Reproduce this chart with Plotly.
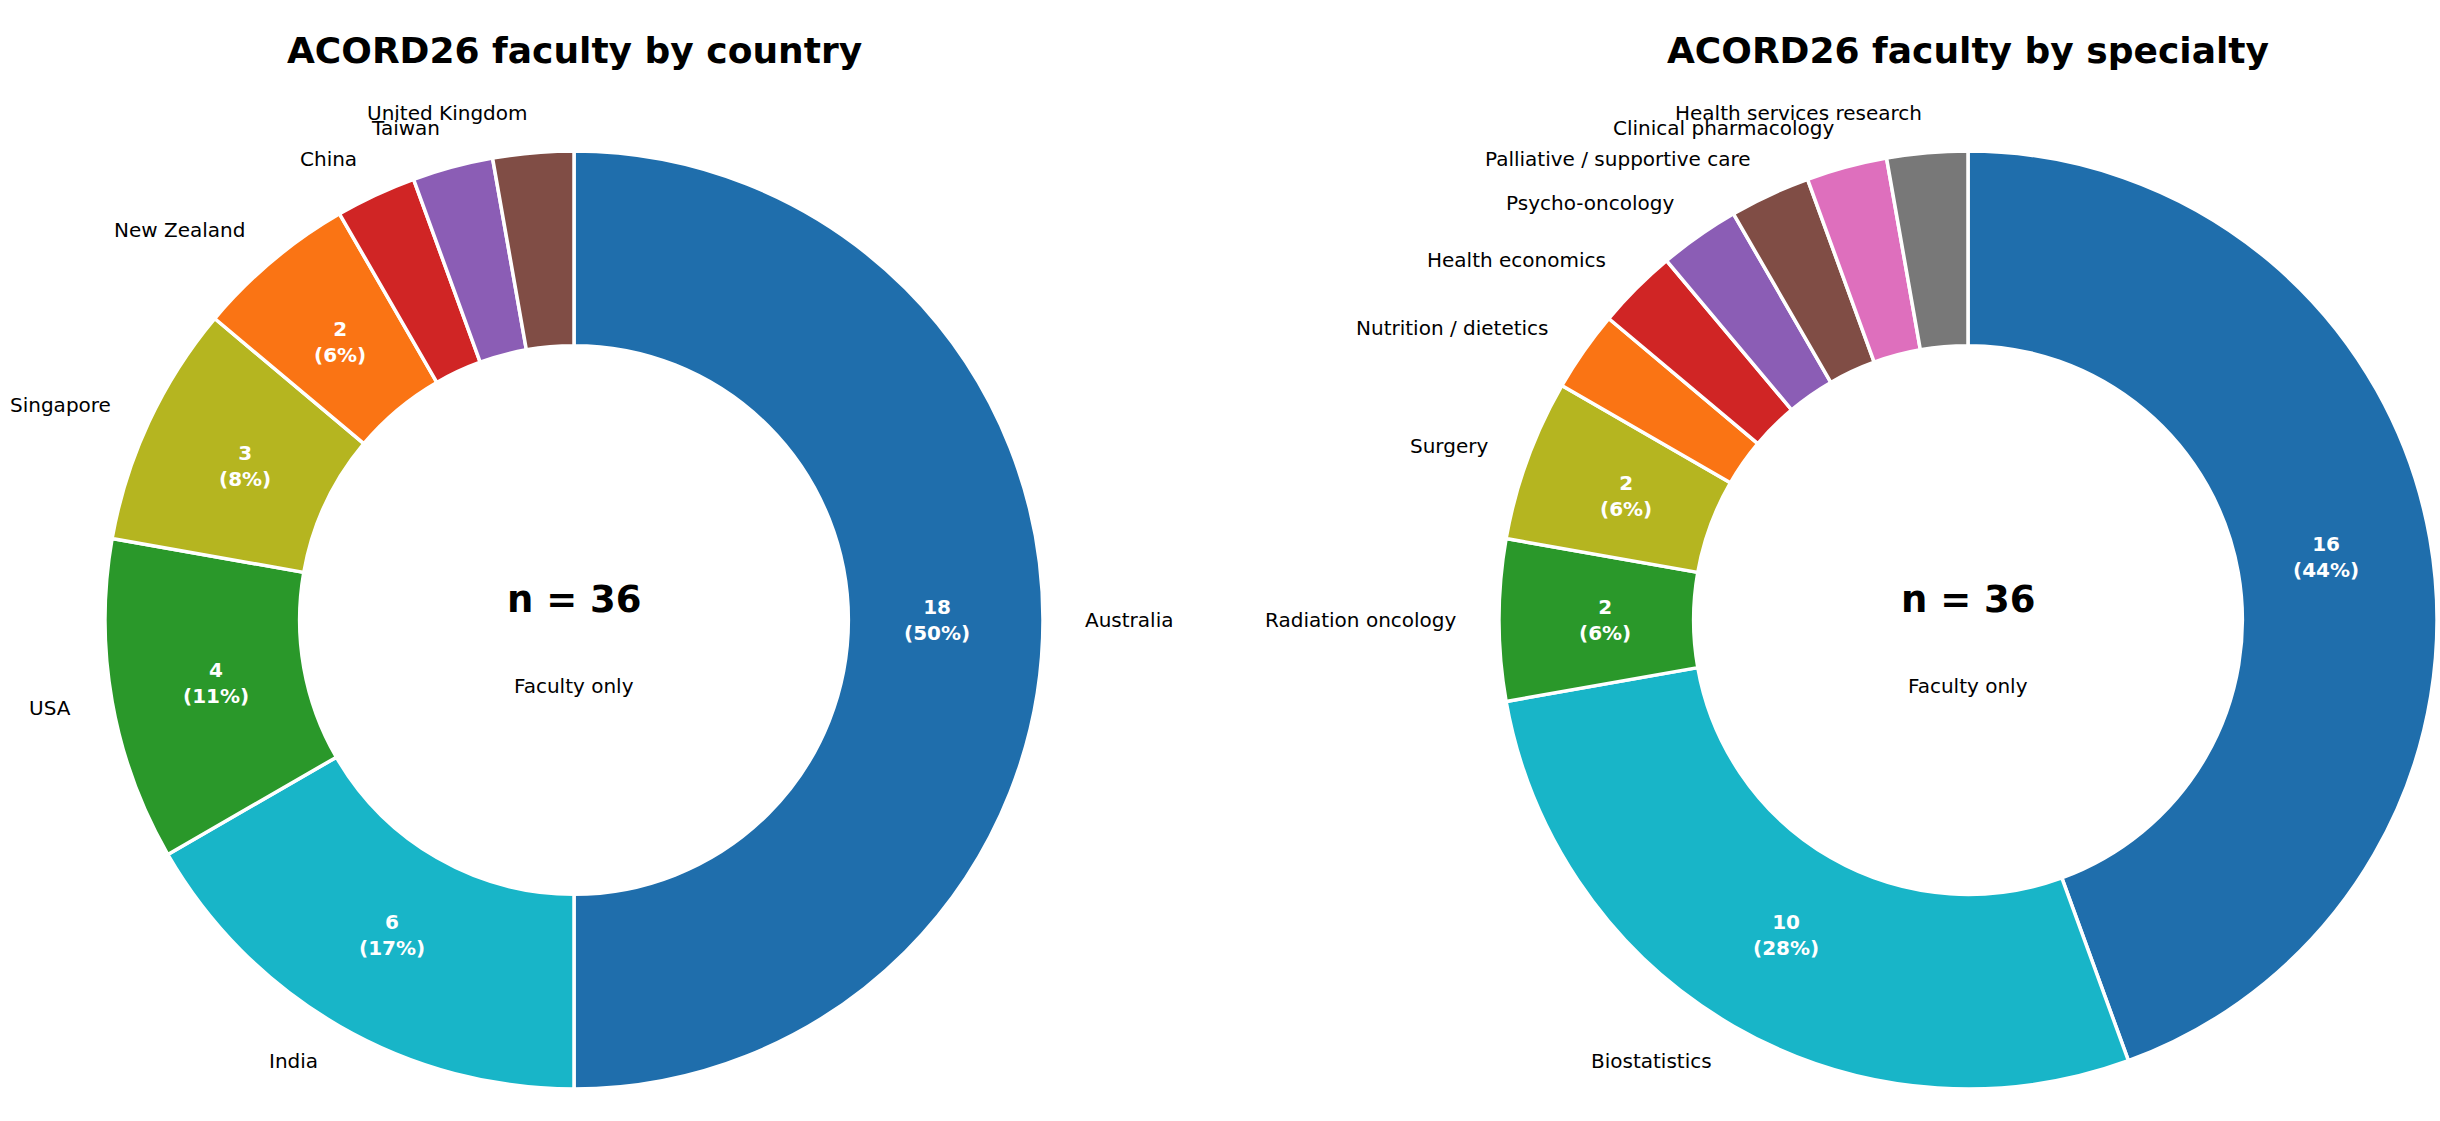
import math
import plotly.graph_objects as go

# data
countries = ["Australia", "India", "USA", "Singapore", "New Zealand", "China", "Taiwan", "United Kingdom"]
country_counts = [18, 6, 4, 3, 2, 1, 1, 1]
country_colors = ["#1f6eac", "#18b5c8", "#2a982a", "#b5b520", "#fa7414", "#d02525", "#8b5db5", "#804d45"]

specialties = ["Medical oncology", "Biostatistics", "Radiation oncology", "Surgery", "Nutrition / dietetics",
               "Health economics", "Psycho-oncology", "Palliative / supportive care",
               "Clinical pharmacology", "Health services research"]
specialty_counts = [16, 10, 2, 2, 1, 1, 1, 1, 1, 1]
specialty_colors = ["#1f6eac", "#18b5c8", "#2a982a", "#b5b520", "#fa7414", "#d02525", "#8b5db5", "#804d45",
                    "#de6fbd", "#787878"]

titles = ["ACORD26 faculty by country", "ACORD26 faculty by specialty"]

W, H = 2440, 1121
R = 469          # outer radius in px
CY = 620         # pie centre y (px from top)
CENTERS_X = [574, 1968]
FONT = "DejaVu Sans"


def paper(px, py):
    return px / W, 1 - py / H


fig = go.Figure()
annotations = []

for labels, vals, cols, cx, title in [
    (countries, country_counts, country_colors, CENTERS_X[0], titles[0]),
    (specialties, specialty_counts, specialty_colors, CENTERS_X[1], titles[1]),
]:
    fig.add_trace(go.Pie(
        labels=labels, values=vals, sort=False, direction="clockwise", rotation=0,
        hole=0.585,
        marker=dict(colors=cols, line=dict(color="white", width=3.5)),
        textinfo="none",
        domain=dict(x=[(cx - R) / W, (cx + R) / W], y=[1 - (CY + R) / H, 1 - (CY - R) / H]),
        showlegend=False, hoverinfo="label+value+percent",
    ))

    # labels placed like matplotlib (label / pct distances)
    tot = sum(vals)
    cum = 0
    for lab, v in zip(labels, vals):
        mid = (cum + v / 2) / tot * 2 * math.pi
        cum += v
        s, c = math.sin(mid), math.cos(mid)
        px, py = cx + 1.085 * R * s, CY - 1.085 * R * c
        if 0 <= px <= W:
            x, y = paper(px, py)
            annotations.append(dict(
                x=x, y=y, xref="paper", yref="paper", text=lab, showarrow=False,
                xanchor="left" if s > 0 else "right", yanchor="middle",
                font=dict(family=FONT, size=20, color="black"),
            ))
        if v >= 2:
            x, y = paper(cx + 0.775 * R * s, CY - 0.775 * R * c)
            annotations.append(dict(
                x=x, y=y, xref="paper", yref="paper",
                text=f"<b>{v}<br>({100 * v / tot:.0f}%)</b>", showarrow=False,
                xanchor="center", yanchor="middle",
                font=dict(family=FONT, size=20, color="white"),
            ))

    x, _ = paper(cx, 0)
    annotations.append(dict(x=x, y=paper(0, 51)[1], xref="paper", yref="paper",
                            text=f"<b>{title}</b>", showarrow=False, xanchor="center", yanchor="middle",
                            font=dict(family=FONT, size=36, color="black")))
    annotations.append(dict(x=x, y=paper(0, 599)[1], xref="paper", yref="paper",
                            text=f"<b>n = {tot}</b>", showarrow=False, xanchor="center", yanchor="middle",
                            font=dict(family=FONT, size=37, color="black")))
    annotations.append(dict(x=x, y=paper(0, 686)[1], xref="paper", yref="paper",
                            text="Faculty only", showarrow=False, xanchor="center", yanchor="middle",
                            font=dict(family=FONT, size=20, color="black")))

fig.update_layout(
    width=W, height=H,
    margin=dict(l=0, r=0, t=0, b=0),
    paper_bgcolor="white",
    plot_bgcolor="white",
    annotations=annotations,
)

fig.write_html("out.html", config={"displayModeBar": False},
               post_script="document.body.style.margin='0px';")
